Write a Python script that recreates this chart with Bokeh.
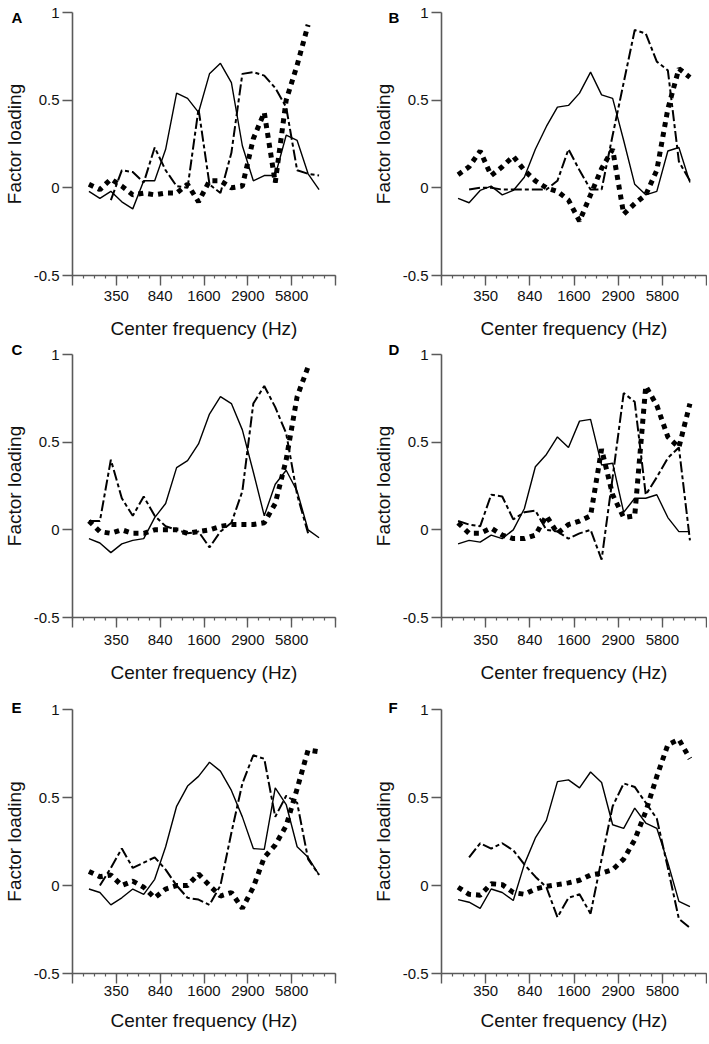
import numpy as np
from bokeh.plotting import figure
from bokeh.layouts import gridplot
from bokeh.models import FixedTicker, Range1d
from bokeh.embed import file_html
from bokeh.resources import INLINE

# ---- data -------------------------------------------------------------
CHANNELS = list(range(1, 23))          # 22 filter channels
FREQ_TICK_POS = [-0.5, 3.5, 7.5, 11.5, 15.5, 19.5, 23.5]
FREQ_TICK_LABELS = ["", "350", "840", "1600", "2900", "5800", ""]
Y_TICKS = [-0.5, 0, 0.5, 1]
Y_TICK_LABELS = ["-0.5", "0", "0.5", "1"]
PANEL_LETTERS = ["A", "B", "C", "D", "E", "F"]

a_solid = [-0.02, -0.06, -0.02, -0.08, -0.12, 0.04, 0.04, 0.22, 0.54, 0.51, 0.43,
           0.65, 0.71, 0.60, 0.24, 0.04, 0.07, 0.07, 0.30, 0.27, 0.08, -0.01]
a_dash = [None, None, -0.07, 0.10, 0.09, 0.03, 0.23, 0.10, 0.01, 0.00, 0.45,
          0.02, -0.03, 0.20, 0.65, 0.66, 0.64, 0.57, 0.46, 0.10, 0.08, 0.07]
a_dot = [0.02, -0.01, 0.05, 0.01, -0.04, -0.03, -0.04, -0.03, -0.03, 0.02, -0.08,
         0.04, 0.04, 0.00, 0.01, 0.28, 0.43, 0.03, 0.50, 0.70, 0.93, None]

b_solid = [-0.06, -0.085, -0.015, 0.01, -0.04, -0.015, 0.06, 0.22, 0.35, 0.46, 0.47,
           0.54, 0.66, 0.53, 0.51, 0.27, 0.02, -0.04, -0.02, 0.21, 0.23, 0.03]
b_dash = [None, -0.01, 0.0, 0.0, -0.01, -0.01, -0.01, -0.01, -0.01, 0.04, 0.22,
          0.10, -0.01, -0.01, 0.30, 0.60, 0.90, 0.88, 0.72, 0.67, 0.15, 0.04]
b_dot = [0.075, 0.12, 0.21, 0.07, 0.12, 0.18, 0.10, 0.04, 0.0, -0.02, -0.07,
         -0.19, -0.04, 0.11, 0.22, -0.15, -0.09, -0.04, 0.10, 0.45, 0.68, 0.63]

c_solid = [-0.05, -0.075, -0.13, -0.08, -0.06, -0.05, 0.07, 0.15, 0.355, 0.395, 0.49,
           0.66, 0.76, 0.72, 0.57, 0.33, 0.08, 0.26, 0.34, 0.22, 0.0, -0.045]
c_dash = [0.05, 0.05, 0.40, 0.18, 0.08, 0.19, 0.08, 0.02, 0.00, -0.02, -0.01,
          -0.10, -0.01, 0.04, 0.22, 0.72, 0.82, 0.70, 0.55, 0.20, -0.02, None]
c_dot = [0.05, -0.01, -0.02, 0.0, -0.02, -0.02, 0.0, 0.0, 0.0, -0.02, -0.01,
         0.0, 0.02, 0.03, 0.03, 0.03, 0.04, 0.15, 0.40, 0.76, 0.93, None]

d_solid = [-0.08, -0.06, -0.07, -0.03, -0.05, 0.0, 0.12, 0.36, 0.43, 0.53, 0.47,
           0.62, 0.63, 0.37, 0.38, 0.10, 0.18, 0.18, 0.20, 0.07, -0.01, -0.01]
d_dash = [0.05, 0.03, 0.02, 0.20, 0.19, 0.06, 0.10, 0.11, 0.00, -0.01, -0.05,
          -0.02, 0.00, -0.17, 0.30, 0.78, 0.73, 0.20, 0.30, 0.41, 0.47, -0.06]
d_dot = [0.04, -0.02, -0.02, 0.01, -0.03, -0.05, -0.05, -0.03, 0.08, -0.02, 0.03,
         0.05, 0.08, 0.46, 0.20, 0.07, 0.08, 0.82, 0.71, 0.53, 0.47, 0.72]

e_solid = [-0.02, -0.04, -0.11, -0.07, -0.02, -0.05, 0.035, 0.22, 0.45, 0.565, 0.62,
           0.70, 0.65, 0.54, 0.39, 0.21, 0.205, 0.555, 0.46, 0.22, 0.16, 0.06]
e_dash = [None, 0.0, 0.10, 0.21, 0.10, 0.13, 0.16, 0.09, 0.0, -0.07, -0.08,
          -0.11, 0.0, 0.30, 0.58, 0.74, 0.72, 0.39, 0.51, 0.47, 0.15, 0.06]
e_dot = [0.08, 0.05, 0.06, 0.0, 0.025, -0.01, -0.07, -0.02, 0.0, 0.0, 0.065,
         0.0, -0.06, -0.04, -0.13, -0.01, 0.16, 0.23, 0.34, 0.55, 0.77, 0.76]

f_solid = [-0.08, -0.095, -0.13, -0.02, -0.04, -0.085, 0.12, 0.27, 0.37, 0.59, 0.60,
           0.555, 0.645, 0.585, 0.345, 0.325, 0.44, 0.355, 0.325, 0.13, -0.09, -0.12]
f_dash = [None, 0.16, 0.24, 0.21, 0.24, 0.20, 0.12, 0.05, -0.01, -0.18, -0.07,
          -0.05, -0.16, 0.15, 0.45, 0.58, 0.56, 0.47, 0.38, 0.10, -0.19, -0.24]
f_dot = [-0.01, -0.05, -0.055, 0.01, 0.005, -0.04, -0.05, -0.02, -0.005, 0.005, 0.015,
         0.03, 0.06, 0.07, 0.09, 0.15, 0.26, 0.42, 0.62, 0.80, 0.83, 0.72]

SERIES = [
    (a_solid, a_dash, a_dot),
    (b_solid, b_dash, b_dot),
    (c_solid, c_dash, c_dot),
    (d_solid, d_dash, d_dot),
    (e_solid, e_dash, e_dot),
    (f_solid, f_dash, f_dot),
]

# ---- styling ----------------------------------------------------------
FONT = "Liberation Sans"
AXIS_COLOR = "#5a5a5a"
TEXT_COLOR = "#111111"
ROW_HEIGHTS = [341, 356, 345]
FRAME_HEIGHTS = [265, 264, 264]
COL_WIDTHS = [354, 353]
COL_LEFT = [70, 87]
COL_RIGHT = [19, 1]
TOP = 12
LETTER_OFFSET_X = [-61, -53]
LETTER_STANDOFF = [-26, -6, -12]
TICK_STANDOFF = [5, 7, 2]
XLABEL_STANDOFF = [14, 14, 11]


def arr(v):
    return np.array([np.nan if x is None else x for x in v], dtype=float)


def make_panel(idx):
    row, col = divmod(idx, 2)
    solid, dash, dot = SERIES[idx]
    h = ROW_HEIGHTS[row]
    p = figure(width=COL_WIDTHS[col], height=h, output_backend="svg",
               toolbar_location=None,
               x_range=Range1d(-0.5, 23.5), y_range=Range1d(-0.5, 1.0),
               min_border_left=COL_LEFT[col], min_border_right=COL_RIGHT[col],
               min_border_top=TOP,
               min_border_bottom=h - TOP - FRAME_HEIGHTS[row])
    p.outline_line_color = None
    p.grid.visible = False
    p.background_fill_color = "white"
    p.border_fill_color = "white"

    # panel letter drawn as the plot title, pulled into the left margin
    p.title.text = PANEL_LETTERS[idx]
    p.title.align = "left"
    p.title.vertical_align = "bottom"
    p.title.offset = LETTER_OFFSET_X[col]
    p.title.standoff = LETTER_STANDOFF[row]
    p.title.text_font = FONT
    p.title.text_font_style = "bold"
    p.title.text_font_size = "15px"
    p.title.text_color = "black"

    x = np.array(CHANNELS, dtype=float)
    p.line(x, arr(dot), line_color="black", line_width=5, line_dash="5 5",
           line_cap="butt")
    p.line(x, arr(dash), line_color="black", line_width=2.0, line_dash="11 3 4 3")
    p.line(x, arr(solid), line_color="black", line_width=1.4)

    xa = p.xaxis[0]
    xa.ticker = FixedTicker(ticks=FREQ_TICK_POS,
                            minor_ticks=[-0.5 + i for i in range(25)])
    xa.major_label_overrides = dict(zip(FREQ_TICK_POS, FREQ_TICK_LABELS))
    xa.major_tick_out = 10
    xa.major_tick_in = 0
    xa.minor_tick_out = 3
    xa.minor_tick_in = 0
    xa.major_label_standoff = TICK_STANDOFF[row]
    xa.axis_label = "Center frequency (Hz)"
    xa.axis_label_standoff = XLABEL_STANDOFF[row]

    ya = p.yaxis[0]
    ya.ticker = FixedTicker(ticks=Y_TICKS, minor_ticks=[])
    ya.major_label_overrides = dict(zip(Y_TICKS, Y_TICK_LABELS))
    ya.major_tick_out = 10
    ya.major_tick_in = 0
    ya.major_label_standoff = 3
    ya.axis_label = "Factor loading"
    ya.axis_label_standoff = 6

    for ax in (xa, ya):
        ax.axis_line_color = AXIS_COLOR
        ax.axis_line_width = 1.6
        ax.major_tick_line_color = AXIS_COLOR
        ax.major_tick_line_width = 1.4
        ax.minor_tick_line_color = AXIS_COLOR
        ax.minor_tick_line_width = 1.2
        ax.major_label_text_font = FONT
        ax.major_label_text_font_size = "15px"
        ax.major_label_text_color = TEXT_COLOR
        ax.axis_label_text_font = FONT
        ax.axis_label_text_font_size = "19px"
        ax.axis_label_text_font_style = "normal"
        ax.axis_label_text_color = TEXT_COLOR
    return p


panels = [make_panel(i) for i in range(6)]
grid = gridplot([[panels[0], panels[1]], [panels[2], panels[3]],
                 [panels[4], panels[5]]], toolbar_location=None)

open("out.html", "w").write(file_html(grid, INLINE))
